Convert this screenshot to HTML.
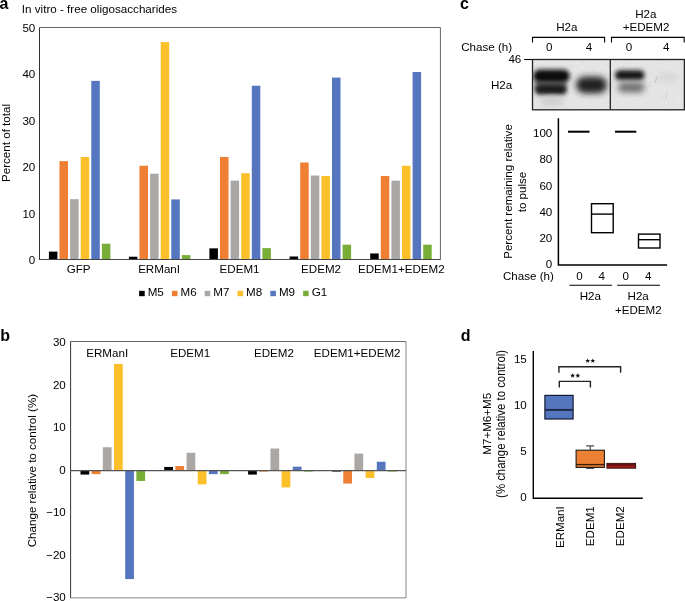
<!DOCTYPE html>
<html><head><meta charset="utf-8"><style>
html,body{margin:0;padding:0;background:#fff;width:685px;height:601px;overflow:hidden}
svg{display:block;will-change:transform}
text{font-family:"Liberation Sans", sans-serif;fill:#000}
</style></head><body>
<svg width="685" height="601" viewBox="0 0 685 601">
<rect width="685" height="601" fill="#fff"/>
<text x="-0.60" y="8.60" text-anchor="start" font-size="16" font-weight="bold" >a</text>
<text x="21.80" y="13.00" text-anchor="start" font-size="11.65" >In vitro - free oligosaccharides</text>
<rect x="48.90" y="251.61" width="8.50" height="7.89" fill="#000000" />
<rect x="59.50" y="161.13" width="8.50" height="98.37" fill="#EE7F33" />
<rect x="70.10" y="199.18" width="8.50" height="60.32" fill="#ABA7A5" />
<rect x="80.70" y="156.96" width="8.50" height="102.54" fill="#FBC02A" />
<rect x="91.30" y="80.86" width="8.50" height="178.64" fill="#5575BF" />
<rect x="101.90" y="243.72" width="8.50" height="15.78" fill="#78AE37" />
<rect x="128.90" y="256.72" width="8.50" height="2.78" fill="#000000" />
<rect x="139.50" y="165.77" width="8.50" height="93.73" fill="#EE7F33" />
<rect x="150.10" y="173.66" width="8.50" height="85.84" fill="#ABA7A5" />
<rect x="160.70" y="42.12" width="8.50" height="217.38" fill="#FBC02A" />
<rect x="171.30" y="199.41" width="8.50" height="60.09" fill="#5575BF" />
<rect x="181.90" y="255.09" width="8.50" height="4.41" fill="#78AE37" />
<rect x="209.40" y="248.36" width="8.50" height="11.14" fill="#000000" />
<rect x="220.00" y="156.96" width="8.50" height="102.54" fill="#EE7F33" />
<rect x="230.60" y="180.62" width="8.50" height="78.88" fill="#ABA7A5" />
<rect x="241.20" y="173.20" width="8.50" height="86.30" fill="#FBC02A" />
<rect x="251.80" y="85.73" width="8.50" height="173.77" fill="#5575BF" />
<rect x="262.40" y="248.13" width="8.50" height="11.37" fill="#78AE37" />
<rect x="289.60" y="256.48" width="8.50" height="3.02" fill="#000000" />
<rect x="300.20" y="162.52" width="8.50" height="96.98" fill="#EE7F33" />
<rect x="310.80" y="175.52" width="8.50" height="83.98" fill="#ABA7A5" />
<rect x="321.40" y="175.98" width="8.50" height="83.52" fill="#FBC02A" />
<rect x="332.00" y="77.61" width="8.50" height="181.89" fill="#5575BF" />
<rect x="342.60" y="244.65" width="8.50" height="14.85" fill="#78AE37" />
<rect x="370.20" y="253.47" width="8.50" height="6.03" fill="#000000" />
<rect x="380.80" y="175.98" width="8.50" height="83.52" fill="#EE7F33" />
<rect x="391.40" y="180.62" width="8.50" height="78.88" fill="#ABA7A5" />
<rect x="402.00" y="165.77" width="8.50" height="93.73" fill="#FBC02A" />
<rect x="412.60" y="72.04" width="8.50" height="187.46" fill="#5575BF" />
<rect x="423.20" y="244.65" width="8.50" height="14.85" fill="#78AE37" />
<line x1="39.50" y1="27.50" x2="440.40" y2="27.50" stroke="#666" stroke-width="1"/>
<line x1="440.40" y1="27.50" x2="440.40" y2="259.50" stroke="#666" stroke-width="1"/>
<line x1="39.50" y1="27.50" x2="39.50" y2="260.00" stroke="#333" stroke-width="1"/>
<line x1="39.50" y1="259.50" x2="440.40" y2="259.50" stroke="#444" stroke-width="1"/>
<text x="35.30" y="264.00" text-anchor="end" font-size="11.6" >0</text>
<text x="35.30" y="217.60" text-anchor="end" font-size="11.6" >10</text>
<text x="35.30" y="171.20" text-anchor="end" font-size="11.6" >20</text>
<text x="35.30" y="124.80" text-anchor="end" font-size="11.6" >30</text>
<text x="35.30" y="78.40" text-anchor="end" font-size="11.6" >40</text>
<text x="35.30" y="32.00" text-anchor="end" font-size="11.6" >50</text>
<text transform="translate(9.65,143.00) rotate(-90)" text-anchor="middle" font-size="11.6">Percent of total</text>
<text x="78.70" y="273.10" text-anchor="middle" font-size="11.6" >GFP</text>
<text x="159.10" y="273.10" text-anchor="middle" font-size="11.6" >ERManI</text>
<text x="239.60" y="273.10" text-anchor="middle" font-size="11.6" >EDEM1</text>
<text x="321.10" y="273.10" text-anchor="middle" font-size="11.6" >EDEM2</text>
<text x="401.30" y="273.10" text-anchor="middle" font-size="11.6" >EDEM1+EDEM2</text>
<rect x="139.10" y="290.80" width="5.60" height="5.40" fill="#000000" />
<text x="147.70" y="296.30" text-anchor="start" font-size="11.6" >M5</text>
<rect x="171.90" y="290.80" width="5.60" height="5.40" fill="#EE7F33" />
<text x="180.50" y="296.30" text-anchor="start" font-size="11.6" >M6</text>
<rect x="204.70" y="290.80" width="5.60" height="5.40" fill="#ABA7A5" />
<text x="213.30" y="296.30" text-anchor="start" font-size="11.6" >M7</text>
<rect x="237.50" y="290.80" width="5.60" height="5.40" fill="#FBC02A" />
<text x="246.10" y="296.30" text-anchor="start" font-size="11.6" >M8</text>
<rect x="270.30" y="290.80" width="5.60" height="5.40" fill="#5575BF" />
<text x="278.90" y="296.30" text-anchor="start" font-size="11.6" >M9</text>
<rect x="303.10" y="290.80" width="5.60" height="5.40" fill="#78AE37" />
<text x="311.70" y="296.30" text-anchor="start" font-size="11.6" >G1</text>
<text x="0.30" y="341.30" text-anchor="start" font-size="16" font-weight="bold" >b</text>
<rect x="80.50" y="470.30" width="8.75" height="4.27" fill="#000000" />
<rect x="91.67" y="470.30" width="8.75" height="3.85" fill="#EE7F33" />
<rect x="102.84" y="447.22" width="8.75" height="23.08" fill="#ABA7A5" />
<rect x="114.01" y="363.89" width="8.75" height="106.41" fill="#FBC02A" />
<rect x="125.18" y="470.30" width="8.75" height="108.76" fill="#5575BF" />
<rect x="136.35" y="470.30" width="8.75" height="10.68" fill="#78AE37" />
<rect x="164.20" y="466.97" width="8.75" height="3.33" fill="#000000" />
<rect x="175.37" y="466.03" width="8.75" height="4.27" fill="#EE7F33" />
<rect x="186.54" y="452.78" width="8.75" height="17.52" fill="#ABA7A5" />
<rect x="197.71" y="470.30" width="8.75" height="14.10" fill="#FBC02A" />
<rect x="208.88" y="470.30" width="8.75" height="3.85" fill="#5575BF" />
<rect x="220.05" y="470.30" width="8.75" height="3.85" fill="#78AE37" />
<rect x="248.10" y="470.30" width="8.75" height="4.27" fill="#000000" />
<rect x="259.27" y="470.30" width="8.75" height="1.28" fill="#EE7F33" />
<rect x="270.44" y="448.51" width="8.75" height="21.79" fill="#ABA7A5" />
<rect x="281.61" y="470.30" width="8.75" height="17.09" fill="#FBC02A" />
<rect x="292.78" y="466.67" width="8.75" height="3.63" fill="#5575BF" />
<rect x="303.95" y="470.30" width="8.75" height="1.28" fill="#78AE37" />
<rect x="332.10" y="470.30" width="8.75" height="1.28" fill="#000000" />
<rect x="343.27" y="470.30" width="8.75" height="13.25" fill="#EE7F33" />
<rect x="354.44" y="453.63" width="8.75" height="16.67" fill="#ABA7A5" />
<rect x="365.61" y="470.30" width="8.75" height="7.69" fill="#FBC02A" />
<rect x="376.78" y="461.75" width="8.75" height="8.55" fill="#5575BF" />
<rect x="387.95" y="470.30" width="8.75" height="1.28" fill="#78AE37" />
<line x1="70.60" y1="341.50" x2="406.00" y2="341.50" stroke="#666" stroke-width="1"/>
<line x1="406.00" y1="341.50" x2="406.00" y2="597.90" stroke="#888" stroke-width="1"/>
<line x1="70.60" y1="597.90" x2="406.00" y2="597.90" stroke="#888" stroke-width="1"/>
<line x1="70.60" y1="341.50" x2="70.60" y2="597.90" stroke="#333" stroke-width="1"/>
<line x1="70.60" y1="470.70" x2="406.00" y2="470.70" stroke="#555" stroke-width="1.2"/>
<text x="65.80" y="346.10" text-anchor="end" font-size="11.6" >30</text>
<text x="65.80" y="388.60" text-anchor="end" font-size="11.6" >20</text>
<text x="65.80" y="431.10" text-anchor="end" font-size="11.6" >10</text>
<text x="65.80" y="473.60" text-anchor="end" font-size="11.6" >0</text>
<text x="65.80" y="516.10" text-anchor="end" font-size="11.6" >−10</text>
<text x="65.80" y="558.60" text-anchor="end" font-size="11.6" >−20</text>
<text x="65.80" y="601.10" text-anchor="end" font-size="11.6" >−30</text>
<text transform="translate(36.10,470.60) rotate(-90)" text-anchor="middle" font-size="11.6">Change relative to control (%)</text>
<text x="107.20" y="357.20" text-anchor="middle" font-size="11.6" >ERManI</text>
<text x="190.20" y="357.20" text-anchor="middle" font-size="11.6" >EDEM1</text>
<text x="273.90" y="357.20" text-anchor="middle" font-size="11.6" >EDEM2</text>
<text x="357.20" y="357.20" text-anchor="middle" font-size="11.6" >EDEM1+EDEM2</text>
<text x="460.00" y="9.30" text-anchor="start" font-size="16" font-weight="bold" >c</text>
<text x="566.90" y="31.40" text-anchor="middle" font-size="11.6" >H2a</text>
<text x="645.90" y="17.70" text-anchor="middle" font-size="11.6" >H2a</text>
<text x="646.00" y="31.40" text-anchor="middle" font-size="11.6" >+EDEM2</text>
<path d="M532.5,42.6 V37.4 H604.6 V42.6" fill="none" stroke="#000" stroke-width="1.1"/>
<path d="M611.5,42.6 V37.4 H684.2 V42.6" fill="none" stroke="#000" stroke-width="1.1"/>
<text x="461.20" y="51.00" text-anchor="start" font-size="11.6" >Chase (h)</text>
<text x="549.30" y="50.60" text-anchor="middle" font-size="11.6" >0</text>
<text x="589.00" y="50.60" text-anchor="middle" font-size="11.6" >4</text>
<text x="628.90" y="50.60" text-anchor="middle" font-size="11.6" >0</text>
<text x="666.30" y="50.60" text-anchor="middle" font-size="11.6" >4</text>
<text x="521.30" y="63.40" text-anchor="end" font-size="11.6" >46</text>
<line x1="524.20" y1="59.50" x2="532.50" y2="59.50" stroke="#000" stroke-width="1.1"/>
<text x="491.00" y="88.70" text-anchor="start" font-size="11.6" >H2a</text>
<defs>
<filter id="bl1" x="-50%" y="-50%" width="200%" height="200%"><feGaussianBlur stdDeviation="2.2"/></filter>
<filter id="bl2" x="-50%" y="-50%" width="200%" height="200%"><feGaussianBlur stdDeviation="3"/></filter>
<filter id="bl3" x="-50%" y="-50%" width="200%" height="200%"><feGaussianBlur stdDeviation="4"/></filter>
<filter id="bl4" x="-50%" y="-50%" width="200%" height="200%"><feGaussianBlur stdDeviation="2.35"/></filter>
<filter id="bl5" x="-50%" y="-50%" width="200%" height="200%"><feGaussianBlur stdDeviation="3.2"/></filter>
<filter id="noise" x="0" y="0" width="100%" height="100%"><feTurbulence type="fractalNoise" baseFrequency="0.9" numOctaves="2" seed="3" result="n"/><feColorMatrix in="n" type="matrix" values="0 0 0 0 0.45  0 0 0 0 0.45  0 0 0 0 0.45  0 0 0 -2.2 1.25"/></filter>
<clipPath id="gclip"><rect x="532.5" y="59.5" width="152" height="50.3"/></clipPath>
</defs>
<g clip-path="url(#gclip)">
<rect x="532.50" y="59.50" width="152.00" height="50.30" fill="#e7e7e7" />
<rect x="532.5" y="59.5" width="152" height="50.3" filter="url(#noise)" opacity="0.25"/>
<rect x="535" y="80" width="31" height="8" fill="#8a8a8a" filter="url(#bl1)"/>
<rect x="533" y="69.6" width="36.8" height="13" rx="6.5" fill="#0e0e0e" filter="url(#bl4)"/>
<rect x="534.5" y="84" width="32.5" height="10.8" rx="5.4" fill="#1e1e1e" filter="url(#bl4)"/>
<ellipse cx="552" cy="101" rx="12" ry="4" fill="#c8c8c8" filter="url(#bl2)"/>
<rect x="576" y="76.8" width="31" height="16.4" rx="8.2" fill="#202020" filter="url(#bl5)"/>
<rect x="615" y="70.3" width="29.5" height="9.8" rx="4.9" fill="#121212" filter="url(#bl4)"/>
<rect x="618" y="82.5" width="26.5" height="9.8" rx="4.9" fill="#6a6a6a" filter="url(#bl5)"/>
<ellipse cx="668" cy="77.5" rx="11" ry="3.5" fill="#d4d4d4" filter="url(#bl2)"/>
<path d="M657,76.5 L655,83" stroke="#a0a0a0" stroke-width="0.7" fill="none" opacity="0.7"/>
<path d="M667.5,93 L665.5,99" stroke="#a8a8a8" stroke-width="0.6" fill="none" opacity="0.6"/>
</g>
<rect x="532.5" y="59.5" width="151.9" height="50.3" fill="none" stroke="#222" stroke-width="1.3"/>
<line x1="610.30" y1="59.50" x2="610.30" y2="109.80" stroke="#222" stroke-width="1.3"/>
<path d="M558.4,118.2 V265 H667.1" fill="none" stroke="#000" stroke-width="1.5"/>
<text x="552.30" y="137.10" text-anchor="end" font-size="11.6" >100</text>
<text x="552.30" y="163.32" text-anchor="end" font-size="11.6" >80</text>
<text x="552.30" y="189.54" text-anchor="end" font-size="11.6" >60</text>
<text x="552.30" y="215.76" text-anchor="end" font-size="11.6" >40</text>
<text x="552.30" y="241.98" text-anchor="end" font-size="11.6" >20</text>
<text x="552.30" y="268.20" text-anchor="end" font-size="11.6" >0</text>
<line x1="568.00" y1="131.70" x2="589.50" y2="131.70" stroke="#000" stroke-width="2"/>
<line x1="615.00" y1="131.70" x2="636.30" y2="131.70" stroke="#000" stroke-width="2"/>
<rect x="591.5" y="203.7" width="21.7" height="29" fill="none" stroke="#000" stroke-width="1.4"/>
<line x1="591.50" y1="214.10" x2="613.20" y2="214.10" stroke="#000" stroke-width="1.4"/>
<rect x="638.5" y="234.1" width="21.5" height="13.9" fill="none" stroke="#000" stroke-width="1.4"/>
<line x1="638.50" y1="239.70" x2="660.00" y2="239.70" stroke="#000" stroke-width="1.4"/>
<text x="503.00" y="280.30" text-anchor="start" font-size="11.6" >Chase (h)</text>
<text x="579.40" y="280.10" text-anchor="middle" font-size="11.6" >0</text>
<text x="601.70" y="280.10" text-anchor="middle" font-size="11.6" >4</text>
<text x="625.80" y="280.10" text-anchor="middle" font-size="11.6" >0</text>
<text x="648.30" y="280.10" text-anchor="middle" font-size="11.6" >4</text>
<line x1="569.40" y1="285.20" x2="611.90" y2="285.20" stroke="#000" stroke-width="1.1"/>
<line x1="617.20" y1="285.20" x2="660.00" y2="285.20" stroke="#000" stroke-width="1.1"/>
<text x="590.30" y="300.00" text-anchor="middle" font-size="11.6" >H2a</text>
<text x="638.20" y="300.00" text-anchor="middle" font-size="11.6" >H2a</text>
<text x="638.30" y="314.40" text-anchor="middle" font-size="11.6" >+EDEM2</text>
<text transform="translate(512.00,191.50) rotate(-90)" text-anchor="middle" font-size="11.6">Percent remaining relative</text>
<text transform="translate(525.70,192.00) rotate(-90)" text-anchor="middle" font-size="11.6">to pulse</text>
<text x="460.80" y="341.30" text-anchor="start" font-size="16" font-weight="bold" >d</text>
<path d="M533.3,351 V498.3 H642.8" fill="none" stroke="#000" stroke-width="1.4"/>
<text x="526.80" y="362.60" text-anchor="end" font-size="11.6" >15</text>
<text x="526.80" y="408.70" text-anchor="end" font-size="11.6" >10</text>
<text x="526.80" y="454.80" text-anchor="end" font-size="11.6" >5</text>
<text x="526.80" y="500.90" text-anchor="end" font-size="11.6" >0</text>
<path d="M558.9,372.8 V366.7 H620.6 V372.8" fill="none" stroke="#222" stroke-width="1.4"/>
<path d="M559.3,387.4 V381.4 H590.4 V387.4" fill="none" stroke="#222" stroke-width="1.4"/>
<polygon points="587.70,358.20 588.32,359.95 590.17,360.00 588.70,361.12 589.23,362.90 587.70,361.85 586.17,362.90 586.70,361.12 585.23,360.00 587.08,359.95" fill="#111"/>
<polygon points="592.80,358.20 593.42,359.95 595.27,360.00 593.80,361.12 594.33,362.90 592.80,361.85 591.27,362.90 591.80,361.12 590.33,360.00 592.18,359.95" fill="#111"/>
<polygon points="572.60,373.00 573.22,374.75 575.07,374.80 573.60,375.92 574.13,377.70 572.60,376.65 571.07,377.70 571.60,375.92 570.13,374.80 571.98,374.75" fill="#111"/>
<polygon points="577.80,373.00 578.42,374.75 580.27,374.80 578.80,375.92 579.33,377.70 577.80,376.65 576.27,377.70 576.80,375.92 575.33,374.80 577.18,374.75" fill="#111"/>
<rect x="544.9" y="395.4" width="28.2" height="23.6" fill="#5476BE" stroke="#141c33" stroke-width="1.2"/>
<line x1="544.90" y1="409.90" x2="573.10" y2="409.90" stroke="#1c2747" stroke-width="1.9"/>
<line x1="590.20" y1="445.90" x2="590.20" y2="450.10" stroke="#222" stroke-width="1"/>
<line x1="586.10" y1="445.90" x2="594.10" y2="445.90" stroke="#444" stroke-width="1.2"/>
<line x1="586.10" y1="468.20" x2="594.10" y2="468.20" stroke="#222" stroke-width="1.2"/>
<rect x="576.1" y="450.2" width="28.3" height="17.2" fill="#EE8033" stroke="#1a1a1a" stroke-width="1.1"/>
<line x1="576.10" y1="464.60" x2="604.40" y2="464.60" stroke="#3a1f08" stroke-width="1.4"/>
<rect x="606.9" y="463.4" width="28.7" height="4.8" fill="#9A1C1C" stroke="#3a1414" stroke-width="1"/>
<rect x="607.40" y="463.90" width="27.70" height="1.80" fill="#681010" />
<text transform="translate(563.70,506.2) rotate(-90)" text-anchor="end" font-size="11.6">ERManI</text>
<text transform="translate(593.60,506.2) rotate(-90)" text-anchor="end" font-size="11.6">EDEM1</text>
<text transform="translate(624.40,506.2) rotate(-90)" text-anchor="end" font-size="11.6">EDEM2</text>
<text transform="translate(490.80,423.80) rotate(-90)" text-anchor="middle" font-size="11.6">M7+M6+M5</text>
<text transform="translate(505.0,423.9) rotate(-90)" text-anchor="middle" font-size="11.9" textLength="148" lengthAdjust="spacingAndGlyphs">(% change relative to control)</text>
</svg>
</body></html>
